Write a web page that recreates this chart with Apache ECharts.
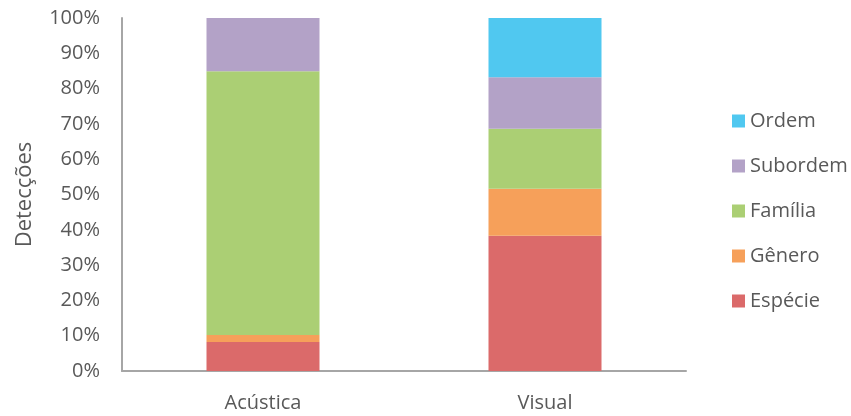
<!DOCTYPE html>
<html lang="pt">
<head>
    <meta charset="utf-8"/>
    <title>Detecções</title>
    <script src="https://cdn.jsdelivr.net/npm/echarts@6/dist/echarts.min.js"></script>
    <style>
        html, body { margin: 0; padding: 0; background: #fff; }
    </style>
</head>
<body>
<div id="main" style="width: 851px;height: 416px;"></div>
<script type="text/javascript">

    // categorias e valores (%)
    var categorias = ['Acústica', 'Visual'];
    var especie = [8.2, 38.3];
    var genero = [2.0, 13.3];
    var familia = [74.7, 17.0];
    var subordem = [15.1, 14.6];
    var ordem = [0, 16.8];

    var myChart = echarts.init(document.getElementById('main'));

    var fonte = '"Open Sans", "Noto Sans", sans-serif';

    function serie(nome, dados, cor) {
        return {
            name: nome,
            type: 'bar',
            stack: 'total',
            barWidth: 113,
            data: dados,
            itemStyle: {color: cor}
        };
    }

    var option = {
        animation: false,
        grid: {left: 122, right: 165, top: 18, bottom: 45},
        legend: {
            orient: 'vertical',
            left: 727,
            top: 106,
            itemWidth: 13,
            itemHeight: 13,
            itemGap: 25,
            icon: 'rect',
            data: ['Ordem', 'Subordem', 'Família', 'Gênero', 'Espécie'],
            textStyle: {color: '#595959', fontSize: 20, lineHeight: 20, fontFamily: fonte}
        },
        xAxis: {
            type: 'category',
            data: categorias,
            axisLine: {lineStyle: {color: '#a6a6a6', width: 2}},
            axisTick: {show: false},
            axisLabel: {color: '#595959', fontSize: 20, fontFamily: fonte, margin: 22}
        },
        yAxis: {
            type: 'value',
            min: 0,
            max: 100,
            interval: 10,
            name: 'Detecções',
            nameLocation: 'middle',
            nameGap: 86,
            nameTextStyle: {color: '#595959', fontSize: 22, fontFamily: fonte},
            axisLine: {show: true, lineStyle: {color: '#a6a6a6', width: 2}},
            axisTick: {show: false},
            splitLine: {show: false},
            axisLabel: {
                color: '#595959', fontSize: 20, fontFamily: fonte, margin: 22,
                formatter: '{value}%'
            }
        },
        series: [
            serie('Espécie', especie, '#db6a6a'),
            serie('Gênero', genero, '#f6a05a'),
            serie('Família', familia, '#abcf74'),
            serie('Subordem', subordem, '#b3a2c7'),
            serie('Ordem', ordem, '#50c8f0')
        ]
    };

    myChart.setOption(option);
</script>
</body>
</html>
